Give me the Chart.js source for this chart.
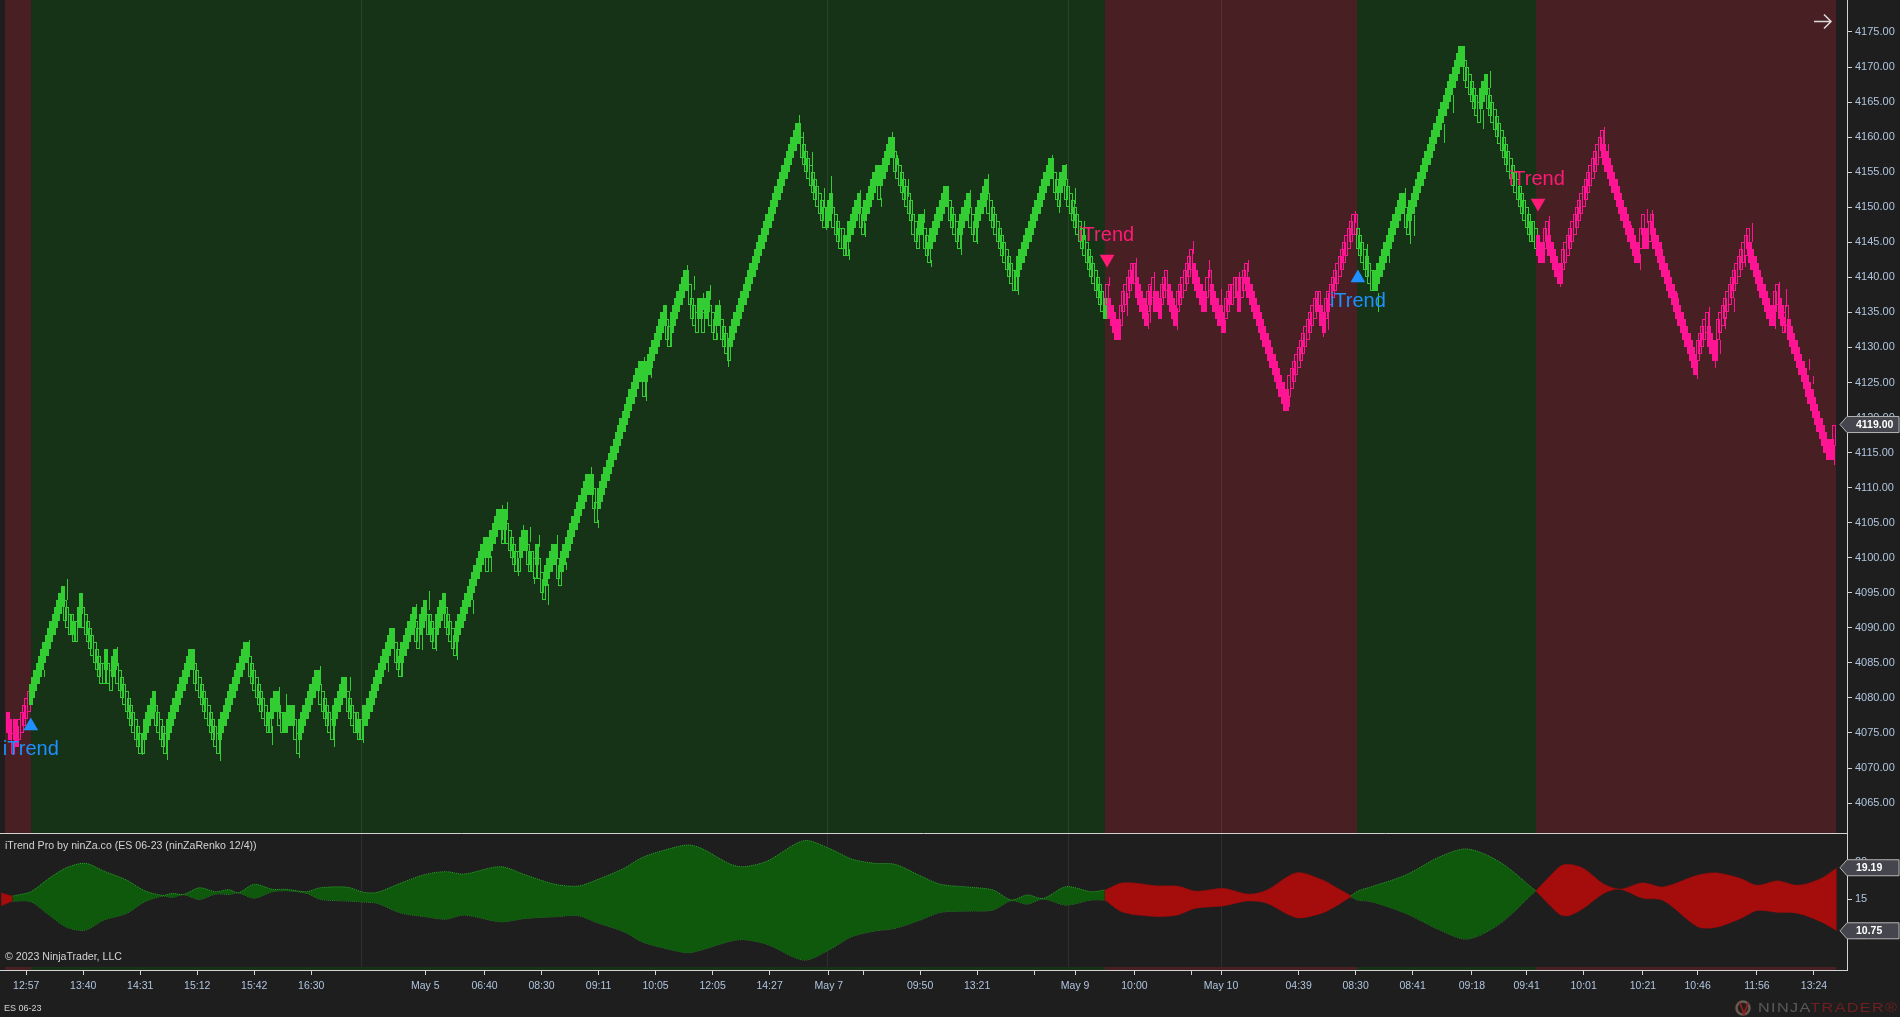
<!DOCTYPE html>
<html>
<head>
<meta charset="utf-8">
<title>iTrend Pro ES 06-23</title>
<script src="https://cdn.jsdelivr.net/npm/chart.js@4"></script>
<style>
    body { margin: 0; background: #1e1e1e; overflow: hidden; font-family: "Liberation Sans", Arial, sans-serif; }
    canvas { position: absolute; left: 0; }
    #priceChart { top: 0; }
    #trendChart { top: 833px; }
    .note { position: absolute; color: #d3d3d3; font-size: 10.6px; white-space: nowrap; }
    #logo { position: absolute; left: 1758px; top: 1001px; font-size: 12px; letter-spacing: 1px; color: #5a5a5a; white-space: nowrap; transform: scaleX(1.35); transform-origin: left; }
    #logo span { color: #6e2020; }
    #mark { position: absolute; left: 1734px; top: 1000px; }
</style>
</head>
<body>
<canvas id="priceChart" width="1900" height="833"></canvas>
<canvas id="trendChart" width="1900" height="184"></canvas>
<div class="note" style="left:5px;top:839px">iTrend Pro by ninZa.co (ES 06-23 (ninZaRenko 12/4))</div>
<div class="note" style="left:5px;top:950px">© 2023 NinjaTrader, LLC</div>
<div class="note" style="left:4px;top:1003px;font-size:9px">ES 06-23</div>
<svg id="mark" width="19" height="16"><circle cx="9" cy="8" r="6.5" fill="none" stroke="#6a5a50" stroke-width="2.5"/><path d="M6 3 L10 14 L14 3" fill="none" stroke="#8a1f1f" stroke-width="2"/></svg>
<div id="logo">NINJA<span>TRADER®</span></div>

<script>
// Renko closes, one per bar, starting at bar 3
const firstBar = 3;
const closes = [
    4075,4074,4075,4074,4073,
    4077,4078,4079,4080,4081,
    4082,4083,4084,4085,4086,4087,4088,4089,4090,4091,4092,4093,4094,4095,4096,
    4091,4090,4089,4089,4088,4088,
    4093,4095,
    4090,4089,4088,4087,4086,4085,4084,4083,4082,4082,
    4087,
    4082,4081,
    4086,4087,
    4082,4081,4080,4079,4078,4077,4076,4075,4074,4073,4072,4072,
    4077,4078,4079,4080,4081,
    4076,4075,4074,4073,4072,
    4077,4078,4079,4080,4081,4082,4083,4084,4085,4086,4087,4087,
    4082,4081,4080,4079,4078,4077,4076,4075,4074,4073,4072,
    4077,4078,4079,4080,4081,4082,4083,4084,4085,4086,4087,4088,4088,
    4083,4082,4081,4080,4079,4078,4077,4076,4075,4075,
    4080,4081,4081,
    4076,4075,
    4078,4078,4079,4079,4079,
    4074,4072,
    4077,4078,4079,4080,4081,4082,4083,4084,4084,
    4079,4078,4077,4076,4075,4074,
    4079,4080,4081,4082,4083,4083,
    4078,4077,4076,4075,4075,4074,4074,
    4079,4079,4080,4081,4082,4083,4084,4085,4086,4087,4088,4089,4090,4090,
    4085,4084,4083,
    4088,4089,4090,4091,4092,4093,
    4088,4087,
    4092,4093,4094,
    4089,4089,4088,4087,
    4092,4093,4094,4095,
    4090,4089,4088,4087,4086,
    4091,4092,4093,4094,4095,4096,4097,4098,4099,4100,4101,4102,4103,
    4098,
    4103,4104,4105,4106,4107,4107,
    4102,
    4107,
    4102,4101,4100,4099,4098,4098,
    4103,4104,4104,
    4099,4098,4098,4097,
    4102,
    4097,4095,4094,
    4099,4100,4101,4102,4102,
    4097,4096,
    4101,4102,4103,4104,4105,4106,4107,4108,4109,4110,4111,4112,4112,4112,
    4107,4105,
    4110,4111,4112,4113,4114,4115,4116,4117,4118,4119,4120,4121,4122,4123,4124,4125,4126,4127,4128,4128,
    4123,
    4128,4129,4130,4131,4132,4133,4134,4135,4136,
    4131,4130,
    4135,4136,4137,4138,4139,4140,4141,4141,
    4136,4134,4133,4132,
    4137,4137,
    4132,
    4137,4138,
    4133,4132,4131,
    4136,4136,
    4131,4130,4129,4128,
    4133,4134,4135,4136,4137,4138,4139,4140,4141,4142,4143,4144,4145,4146,4147,
    4148,4149,4150,4151,4152,4153,4154,4155,4156,4157,4158,4159,4160,4161,4162,4162,
    4157,4156,4155,4154,4153,4152,4151,4150,4149,4148,4147,
    4150,4151,4152,
    4147,4146,4145,4144,4144,4143,4143,
    4148,4149,4150,4151,4152,
    4147,4146,
    4151,4152,4153,4154,4155,4156,
    4151,
    4156,4157,4158,4159,4160,4160,
    4155,4154,4153,4152,4151,4150,4149,4148,4146,4145,4144,
    4149,4149,
    4144,4143,4142,
    4147,4148,4149,4150,4151,4152,4153,4153,
    4148,4147,4146,4145,4144,
    4149,4150,4151,4152,
    4147,4146,4145,
    4150,4151,4152,4153,4154,
    4149,4148,4147,4146,4145,4144,4143,4142,4141,4140,4139,4138,4138,
    4143,4144,4145,4146,4147,4148,4149,4150,4151,4152,4153,4154,4155,4156,4157,4157,
    4152,4151,4150,
    4155,4156,
    4151,4150,4149,4148,4147,4146,4145,4144,4143,4142,4141,4140,4139,4138,4137,4136,4135,
    4137,4139,
    4134,4133,4132,4131,4131,
    4136,4138,4139,4140,4141,4142,4142,
    4137,4136,4135,4134,4133,
    4138,4139,4140,
    4135,4135,4134,
    4139,4140,4141,
    4136,4135,4134,4133,
    4138,4139,4140,4141,4142,4143,4144,
    4139,4138,4137,4136,4135,4135,
    4140,4141,
    4136,4135,4134,4133,4133,4132,
    4137,4138,4139,4139,4140,4140,
    4135,
    4140,4141,4142,
    4137,4136,4135,4134,4133,4132,4131,4130,4129,4128,4127,4126,4125,4124,4123,4122,4121,4121,
    4126,4127,4128,4129,4130,4131,4132,4133,4134,4135,4136,4137,4138,4138,
    4133,4132,
    4137,4138,4139,4140,4141,4142,4143,4144,4145,4146,4147,4148,4149,4149,
    4144,4143,4142,4141,4140,4139,4138,4138,
    4141,4142,4143,4144,4145,4146,4147,4148,4149,4150,4151,4152,4152,
    4147,4146,
    4151,4152,4153,4154,4155,4156,4157,4158,4159,4160,4161,4162,4163,4164,4165,4166,4167,4168,4169,4170,4171,4172,4173,4173,
    4168,4167,4166,4165,4164,4163,4162,
    4167,4168,4169,
    4164,4163,4162,4161,4160,4159,4158,4157,4156,4155,4154,4153,4152,4151,4150,4149,4148,4147,4146,4145,4145,
    4144,4143,4142,4142,
    4147,4148,
    4143,4142,4141,4140,4139,4139,
    4144,4145,4146,4147,4148,4149,4150,4151,4152,4153,4154,4155,4156,4157,4158,4159,4160,4161,
    4156,4155,4154,4153,4152,4151,4150,4149,4148,4147,4146,4145,4144,4143,4142,4142,
    4147,4149,
    4144,4144,
    4148,4149,
    4144,4143,4142,4141,4140,4139,4138,4137,4136,4135,4134,4133,4132,4131,4130,4129,4128,4127,4126,
    4131,4132,4133,4134,4135,
    4130,4129,4128,4128,
    4134,4135,4136,4137,4138,4139,4140,4141,4142,4143,4144,4145,4146,4147,
    4142,4141,4140,4139,4138,4137,4136,4135,4134,4133,4133,
    4138,4139,
    4134,4133,
    4135,4136,
    4131,4130,4129,4128,4127,4126,4125,4124,4123,4122,4121,4120,4119,4118,4117,4116,4115,4114,4114,4114,
    4119
];

// Wicks: bar number, top and bottom of the thin line
const wickBars = [19,29,51,62,73,96,109,119,122,125,131,140,146,153,159,170,176,182,185,188,191,200,207,215,220,222,227,229,232,234,236,240,244,248,259,262,267,282,283,285,294,301,304,308,311,314,315,319,350,352,356,361,362,364,372,377,379,386,391,393,398,405,408,421,425,428,433,446,461,464,467,471,475,486,491,494,498,503,504,506,516,523,530,535,537,543,547,565,580,582,594,599,604,609,616,618,620,633,637,650,653,679,684,703,705,715,719,722,724,728,735,744,749,752,754,756,760,765,768,778,780,782,783,793,795,804];
const wickHighs = [4084,4097,4087.3,4075,4075,4075,4088.3,4076,4081.6,4080.6,4075,4084.5,4077,4083,4076,4085.4,4085,4093.4,4089,4095.3,4089,4088.5,4094,4100.3,4107.5,4108,4100,4104.6,4104.4,4097.3,4103.2,4096.3,4103.2,4099.4,4112.9,4105.4,4112.3,4128.6,4125,4127,4132,4141.8,4140.2,4137.7,4138.9,4132,4136.8,4131.3,4163.2,4160.8,4157.9,4152.8,4149,4154.5,4144,4152.5,4147.7,4151.3,4160.8,4157.5,4154,4149.8,4142.5,4146.3,4152.5,4147.2,4154.7,4140,4157.5,4151,4156.2,4152.8,4148,4140,4134,4137.7,4142.7,4134.9,4138.7,4140.8,4135.6,4145.2,4142.5,4138.4,4133.9,4140.8,4142.5,4123,4134.4,4137.7,4149.5,4144.7,4137.7,4143,4152.7,4148.7,4148.9,4161.9,4166,4163.9,4169.4,4148.7,4141.5,4161.5,4159,4147.5,4143.4,4149.7,4149.6,4145,4137.7,4128,4135.8,4129,4131,4134.4,4137,4143,4147.8,4136.8,4139.4,4134.4,4138.4,4128.4,4125.9,4116];
const wickLows = [4083,4094,4084.5,4071.8,4071.2,4071,4086,4073.3,4077,4077,4071.5,4082,4073,4081,4073.5,4083.7,4083,4091.3,4086.8,4092.5,4086.7,4085.4,4092,4098,4102.5,4105.4,4097.4,4103.5,4102.3,4096.3,4101.6,4093.3,4100,4098.2,4110,4104.2,4111.5,4126.3,4122.3,4125.6,4130,4140,4138.2,4135.3,4136.8,4131,4134.3,4127.2,4162,4159,4155.3,4150,4146.7,4151.5,4142.5,4150.8,4145.8,4150,4159.6,4156,4151.5,4147.7,4141.5,4143.2,4150,4144.8,4152,4137.5,4156,4149.2,4154,4150.5,4145.3,4138.7,4131,4134.5,4140,4132.6,4133.5,4138.7,4132.5,4143.4,4139.9,4135.3,4132,4138,4140.8,4121.5,4131.5,4132.5,4147.7,4141,4135,4142,4150,4144.8,4145.9,4159.2,4163.4,4161.2,4167,4146,4138.6,4159,4157,4145,4141,4147.7,4147,4143,4135.8,4125.5,4133,4127,4129,4132.7,4135,4141.5,4145,4132.6,4136.8,4132.2,4135.8,4126.8,4124.8,4113.2];

// Trend zones, in bars
const zoneEdges = [1.7, 13, 484.2, 594.7, 673.2, 804.7];
const zoneTrends = ['down', 'up', 'down', 'up', 'down'];
const dayBreaks = [158, 362, 468, 535];

// Signal markers
const signalBars = [13, 484.6, 595, 673.5];
const signalPrices = [4076, 4142.6, 4139.9, 4150.6];
const signalTextPrices = [4072.7, 4145.9, 4136.6, 4153.9];
const signalTrends = ['up', 'down', 'up', 'down'];

// Lower panel: band edges read at these bars
const bandBars = [0,5,13,21,29,37,45,55,63,71,75,80,87,94,100,104,111,119,125,134,140,152,159,165,175,186,195,203,219,230,243,253,261,273,281,290,301,307,320,326,336,352,363,373,383,392,403,412,424,435,443,450,457,467,478,484,492,507,516,524,536,547,555,568,579,585,592,595,601,616,631,643,657,673,679,684,688,694,703,710,720,729,744,752,763,770,779,788,798,805];
const bandUpper = [15.84,15.4,15.98,17.77,19.24,19.78,18.75,17.54,16.11,15.49,15.76,15.62,16.51,15.98,16.25,15.84,16.97,16.3,16.3,15.98,16.51,16.57,15.9,15.9,17.1,18.3,18.66,18.35,19.33,18.22,16.97,16.74,17.55,19.1,20.54,21.47,22.23,21.8,19.64,19.33,20.09,22.81,21.8,20.36,19.78,19.64,18.13,16.97,16.61,16.2,14.87,15.54,15.09,16.65,15.98,16.2,17.19,16.79,16.74,16.07,16.43,15.67,16.2,18.53,17.64,16.65,15.45,16.07,16.65,18.22,20.67,21.7,20,16.1,18,19.46,19.64,19.1,17,16.34,17.18,16.65,18.21,18.52,17.76,16.87,17.45,16.87,17.76,19.19];
const bandLower = [14.06,14.73,14.64,12.86,11.2,10.85,12.19,13.08,14.64,15.4,15.23,15.58,14.96,15.67,15.63,15.82,15.13,15.98,16.11,15.76,14.96,14.73,14.6,14.42,13.17,12.64,12.32,12.86,11.97,12.41,12.64,12.77,11.88,10.63,9.29,8.49,7.82,8.18,9.38,9.56,8.93,6.84,8.18,9.96,10.72,11.08,12.19,13.22,13.4,13.53,14.78,14.33,15,14.2,14.87,14.87,13.22,12.64,12.86,13.75,14.07,14.73,14.42,12.5,13.08,13.97,15.31,14.87,14.65,13.08,10.85,9.65,11.65,16.1,14.2,12.86,12.81,13.75,15.76,16.29,15.09,14.77,11.29,11.2,12.41,13.44,13.21,13.08,11.96,10.75];

// Time axis
const tickBars = [11,36,61,86,111,136,186,212,237,262,287,312,337,363,378,403,428,453,471,497,522,535,569,594,619,645,669,694,720,744,770,795];
const tickLabels = ['12:57','13:40','14:31','15:12','15:42','16:30','May 5','06:40','08:30','09:11','10:05','12:05','14:27','May 7','','09:50','13:21','','May 9','10:00','','May 10','04:39','08:30','08:41','09:18','09:41','10:01','10:21','10:46','11:56','13:24'];

const lastPrice = 4119;
const barCount = 810;

const fontFamily = '"Liberation Sans", Arial, sans-serif';
const axisColor = '#b0c4de';
const lineColor = '#d3d3d3';
const trendStyle = {
    up: { bar: '#32cd32', zone: '#163318', band: '#0e590c', edge: '#2f9f2f', signal: '#1e90ff' },
    down: { bar: '#ff1493', zone: '#482023', band: '#a50c0c', edge: '#7a1010', signal: '#ff1a75' }
};

function trendAt(bar) {
    for (let i = 0; i < zoneTrends.length; i++) {
        if (bar < zoneEdges[i + 1]) return zoneTrends[i];
    }
    return zoneTrends[zoneTrends.length - 1];
}

// Chart.js reserves room for half a tick label at each end, we do not want that
function fixAxisSize(axis, size) {
    if (axis.isHorizontal()) axis.height = size;
    else axis.width = size;
    axis.paddingTop = 0;
    axis.paddingBottom = 0;
    axis.paddingLeft = 0;
    axis.paddingRight = 0;
}

// Floating bars from the closes: brick body is three points
const bodies = new Array(barCount).fill(null);
const bodyFill = new Array(barCount).fill('transparent');
const bodyEdge = new Array(barCount).fill('transparent');
let rising = false;
closes.forEach((close, i) => {
    const bar = firstBar + i;
    if (i > 0 && close !== closes[i - 1]) rising = close > closes[i - 1];
    const trend = trendAt(bar);
    bodies[bar] = rising ? [close - 3, close] : [close, close + 3];
    bodyEdge[bar] = trendStyle[trend].bar;
    bodyFill[bar] = (trend === 'up') === rising ? trendStyle[trend].bar : 'transparent';
});

const wicks = new Array(barCount).fill(null);
const wickColors = new Array(barCount).fill('transparent');
wickBars.forEach((bar, i) => {
    wicks[bar] = [wickLows[i], wickHighs[i]];
    wickColors[bar] = trendStyle[trendAt(bar)].bar;
});

// Day lines, shared by both panels
function drawDayLines(chart) {
    const { ctx, chartArea, scales } = chart;
    ctx.save();
    ctx.strokeStyle = 'rgba(255,255,255,0.08)';
    ctx.lineWidth = 1;
    dayBreaks.forEach(bar => {
        const x = Math.round(scales.x.getPixelForValue(bar)) + 0.5;
        ctx.beginPath();
        ctx.moveTo(x, chartArea.top);
        ctx.lineTo(x, chartArea.bottom);
        ctx.stroke();
    });
    ctx.restore();
}

function drawZones(chart, top, bottom) {
    const { ctx, scales } = chart;
    ctx.save();
    zoneTrends.forEach((trend, i) => {
        const left = Math.round(scales.x.getPixelForValue(zoneEdges[i]));
        const right = Math.round(scales.x.getPixelForValue(zoneEdges[i + 1]));
        ctx.fillStyle = trendStyle[trend].zone;
        ctx.fillRect(left, top, right - left, bottom - top);
    });
    ctx.restore();
}

// Price tag sticking out of the axis
function drawTag(chart, y, text) {
    const { ctx, chartArea } = chart;
    const left = chartArea.right;
    ctx.save();
    ctx.beginPath();
    ctx.moveTo(left - 7, y);
    ctx.lineTo(left, y - 8);
    ctx.lineTo(chart.width - 1, y - 8);
    ctx.lineTo(chart.width - 1, y + 8);
    ctx.lineTo(left, y + 8);
    ctx.closePath();
    ctx.fillStyle = '#45454d';
    ctx.fill();
    ctx.strokeStyle = '#b5b5b5';
    ctx.lineWidth = 1;
    ctx.stroke();
    ctx.fillStyle = '#ffffff';
    ctx.font = 'bold 10.5px ' + fontFamily;
    ctx.textBaseline = 'middle';
    ctx.textAlign = 'left';
    ctx.fillText(text, left + 9, y + 0.5);
    ctx.restore();
}

const pricePanel = {
    id: 'pricePanel',
    afterDatasetsUpdate(chart) {
        // Keep bars on whole pixels so the hollow bricks stay crisp
        chart.getSortedVisibleDatasetMetas().forEach(meta => {
            if (meta.type !== 'bar') return;
            meta.data.forEach(el => {
                el.x = el.width % 2 === 0 ? Math.round(el.x) : Math.floor(el.x) + 0.5;
                el.y = Math.round(el.y);
                el.base = Math.round(el.base);
            });
        });
    },
    beforeDatasetsDraw(chart) {
        drawZones(chart, chart.chartArea.top, chart.chartArea.bottom);
        drawDayLines(chart);
    },
    afterDatasetsDraw(chart) {
        const { ctx, scales } = chart;
        ctx.save();
        ctx.font = '20px ' + fontFamily;
        ctx.textAlign = 'center';
        ctx.textBaseline = 'middle';
        signalBars.forEach((bar, i) => {
            ctx.fillStyle = trendStyle[signalTrends[i]].signal;
            ctx.fillText('iTrend', scales.x.getPixelForValue(bar), scales.y.getPixelForValue(signalTextPrices[i]));
        });
        // Arrow in the top right corner
        ctx.strokeStyle = '#dcdcdc';
        ctx.lineWidth = 1.5;
        ctx.beginPath();
        ctx.moveTo(1814, 21.5);
        ctx.lineTo(1831, 21.5);
        ctx.moveTo(1824, 14.5);
        ctx.lineTo(1831, 21.5);
        ctx.lineTo(1824, 28.5);
        ctx.stroke();
        ctx.restore();
    },
    afterDraw(chart) {
        drawTag(chart, chart.scales.y.getPixelForValue(lastPrice), lastPrice.toFixed(2));
    }
};

const trendPanel = {
    id: 'trendPanel',
    beforeDatasetsDraw(chart) {
        const { ctx, chartArea } = chart;
        drawDayLines(chart);
        drawZones(chart, chartArea.bottom - 3, chartArea.bottom);
        ctx.save();
        ctx.strokeStyle = lineColor;
        ctx.lineWidth = 1;
        ctx.beginPath();
        ctx.moveTo(0, chartArea.top + 0.5);
        ctx.lineTo(chartArea.right, chartArea.top + 0.5);
        ctx.stroke();
        ctx.restore();
    },
    afterDraw(chart) {
        const y = chart.scales.y;
        drawTag(chart, y.getPixelForValue(bandUpper[bandUpper.length - 1]), bandUpper[bandUpper.length - 1].toFixed(2));
        drawTag(chart, y.getPixelForValue(bandLower[bandLower.length - 1]), bandLower[bandLower.length - 1].toFixed(2));
    }
};

Chart.defaults.animation = false;
Chart.defaults.devicePixelRatio = 1;

// Price panel
new Chart(document.getElementById('priceChart'), {
    type: 'bar',
    data: {
        labels: Array.from({ length: barCount }, () => ''),
        datasets: [
            {
                type: 'line',
                data: Array.from({ length: barCount }, (_, bar) => {
                    const i = signalBars.findIndex(b => Math.round(b) === bar);
                    return i >= 0 ? signalPrices[i] : null;
                }),
                showLine: false,
                pointStyle: 'triangle',
                pointRadius: 8.5,
                pointRotation: ctx => {
                    const i = signalBars.findIndex(b => Math.round(b) === ctx.dataIndex);
                    return i >= 0 && signalTrends[i] === 'down' ? 180 : 0;
                },
                pointBackgroundColor: ctx => {
                    const i = signalBars.findIndex(b => Math.round(b) === ctx.dataIndex);
                    return i >= 0 ? trendStyle[signalTrends[i]].signal : 'transparent';
                },
                pointBorderWidth: 0
            },
            {
                data: bodies,
                backgroundColor: bodyFill,
                borderColor: bodyEdge,
                borderWidth: 1,
                borderSkipped: false,
                barThickness: 4,
                grouped: false,
                inflateAmount: 0
            },
            {
                data: wicks,
                backgroundColor: wickColors,
                borderWidth: 0,
                barThickness: 1,
                grouped: false,
                inflateAmount: 0
            }
        ]
    },
    options: {
        responsive: false,
        layout: { padding: 0, autoPadding: false },
        plugins: { legend: { display: false }, tooltip: { enabled: false } },
        scales: {
            x: { display: false, afterFit: axis => fixAxisSize(axis, 0) },
            y: {
                position: 'right',
                min: 4060.73,
                max: 4179.565,
                afterFit: axis => fixAxisSize(axis, 53),
                border: { color: lineColor },
                grid: { drawOnChartArea: false, tickLength: 5, tickColor: lineColor },
                ticks: {
                    stepSize: 5,
                    includeBounds: false,
                    padding: 3,
                    color: axisColor,
                    font: { family: fontFamily, size: 11 },
                    callback: v => v.toFixed(2)
                }
            }
        }
    },
    plugins: [pricePanel]
});

// One filled pair of lines per trend zone in the lower panel
const bandSets = [];
zoneTrends.forEach((trend, z) => {
    const from = z === 0 ? -1 : zoneEdges[z];
    const to = z === zoneTrends.length - 1 ? barCount : zoneEdges[z + 1];
    const inZone = (bar, i) => {
        const next = bandBars[i + 1];
        return (bar >= from && bar < to) || (bar < from && next >= from);
    };
    const upper = [];
    const lower = [];
    bandBars.forEach((bar, i) => {
        if (!inZone(bar, i)) return;
        upper.push({ x: bar, y: bandUpper[i] });
        lower.push({ x: bar, y: bandLower[i] });
    });
    const style = trendStyle[trend];
    const base = { borderColor: style.edge, borderWidth: 1, borderDash: [1, 1], pointRadius: 0, tension: 0.3 };
    bandSets.push({ ...base, data: upper, fill: { target: bandSets.length + 1 }, backgroundColor: style.band });
    bandSets.push({ ...base, data: lower, fill: false });
});

new Chart(document.getElementById('trendChart'), {
    type: 'line',
    data: { datasets: bandSets },
    options: {
        responsive: false,
        layout: { padding: 0, autoPadding: false },
        plugins: { legend: { display: false }, tooltip: { enabled: false } },
        scales: {
            x: {
                type: 'linear',
                min: -0.5,
                max: barCount - 0.5,
                afterFit: axis => fixAxisSize(axis, 47),
                afterBuildTicks: axis => { axis.ticks = tickBars.map(value => ({ value })); },
                border: { color: lineColor },
                grid: { drawOnChartArea: false, tickLength: 5, tickColor: lineColor },
                ticks: {
                    autoSkip: false,
                    maxRotation: 0,
                    padding: 5,
                    color: axisColor,
                    font: { family: fontFamily, size: 10.5 },
                    callback: v => tickLabels[tickBars.indexOf(v)]
                }
            },
            y: {
                position: 'right',
                min: 5.5,
                max: 23.84,
                afterFit: axis => fixAxisSize(axis, 53),
                border: { color: lineColor },
                grid: { drawOnChartArea: false, tickLength: 5, tickColor: lineColor },
                ticks: {
                    stepSize: 5,
                    includeBounds: false,
                    padding: 3,
                    color: axisColor,
                    font: { family: fontFamily, size: 11 }
                }
            }
        }
    },
    plugins: [trendPanel]
});
</script>
</body>
</html>
